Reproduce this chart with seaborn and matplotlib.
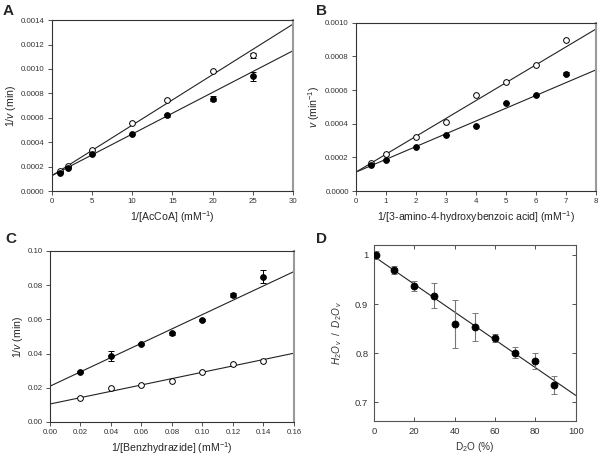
import numpy as np
import pandas as pd
import matplotlib
matplotlib.use("Agg")
import matplotlib.pyplot as plt
import seaborn as sns

sns.set_theme(style="ticks")
plt.rcParams['font.family'] = ['Liberation Sans', 'DejaVu Sans']
plt.rcParams['mathtext.fontset'] = 'custom'
plt.rcParams['mathtext.rm'] = 'Liberation Sans'
plt.rcParams['mathtext.it'] = 'Liberation Sans:italic'

# ---- Panel A data ----
a_x = [1, 2, 5, 10, 14.3, 20, 25]
a_open = [0.000161, 0.000205, 0.000333, 0.000554, 0.000748, 0.000985, 0.001113]
a_open_err = [0, 0, 0, 0, 0, 0, 0.00002]
a_fill = [0.000150, 0.000188, 0.000300, 0.000467, 0.000620, 0.000756, 0.000939]
a_fill_err = [0, 0, 0, 0, 0.00001, 0.00002, 0.00004]
a_fit_x = [0, 30]
a_fit_open = [0.000125, 0.001367]
a_fit_fill = [0.000125, 0.001149]

# ---- Panel B data ----
b_x = [0.5, 1, 2, 3, 4, 5, 6, 7]
b_open = [0.000167, 0.000219, 0.000323, 0.000408, 0.000572, 0.000649, 0.000749, 0.000898]
b_fill = [0.000157, 0.000187, 0.000263, 0.000333, 0.000388, 0.000526, 0.000570, 0.000697]
b_fill_err = [0, 0, 0, 0, 0, 0, 0, 0.00001]
b_fit_x = [0, 8]
b_fit_open = [0.000112, 0.000964]
b_fit_fill = [0.000112, 0.000721]

# ---- Panel C data ----
c_x = [0.02, 0.04, 0.06, 0.08, 0.10, 0.12, 0.14]
c_fill = [0.0291, 0.0387, 0.0457, 0.0518, 0.0596, 0.0744, 0.0850]
c_fill_err = [0.0005, 0.0028, 0.0005, 0.0008, 0.0008, 0.0012, 0.0040]
c_open = [0.0141, 0.0199, 0.0219, 0.0238, 0.0291, 0.0338, 0.0354]
c_fit_x = [0, 0.16]
c_fit_fill = [0.0209, 0.0879]
c_fit_open = [0.0105, 0.0402]

# ---- Panel D data ----
d_x = [1, 10, 20, 30, 40, 50, 60, 70, 80, 89]
d_y = [1.000, 0.969, 0.937, 0.917, 0.860, 0.853, 0.831, 0.801, 0.784, 0.735]
d_err = [0.008, 0.008, 0.010, 0.025, 0.049, 0.028, 0.008, 0.011, 0.016, 0.018]
d_fit_x = [0, 100]
d_fit_y = [0.997, 0.714]

fig = plt.figure(figsize=(6.01, 4.57), dpi=100)
axA = fig.add_axes([0.086, 0.582, 0.4015, 0.374])
axB = fig.add_axes([0.592, 0.582, 0.400, 0.368])
axC = fig.add_axes([0.083, 0.0766, 0.406, 0.3744])
axD = fig.add_axes([0.622, 0.0788, 0.336, 0.385])

tick_fs = 5.7
lab_fs = 7.6
ms = 17
lc = '#222222'


def style_abc(ax):
    for s in ['left', 'bottom', 'top']:
        ax.spines[s].set_color('#333333')
        ax.spines[s].set_linewidth(0.8)
    ax.spines['right'].set_color('#9a9a9a')
    ax.spines['right'].set_linewidth(1.5)
    ax.tick_params(direction='out', length=3, width=0.6, labelsize=tick_fs,
                   colors='#333333', pad=2)


def plot_series(ax, x, y, filled, err=None):
    if err is not None:
        ax.errorbar(x, y, yerr=err, fmt='none', ecolor='black', elinewidth=0.7,
                    capsize=2, capthick=0.7, zorder=2)
    df = pd.DataFrame({'x': x, 'y': y})
    sns.scatterplot(data=df, x='x', y='y', ax=ax, s=ms, marker='o',
                    color='black' if filled else 'white', edgecolor='black',
                    linewidth=0.7, zorder=3)


def plot_fit(ax, x, y):
    df = pd.DataFrame({'x': x, 'y': y})
    sns.lineplot(data=df, x='x', y='y', ax=ax, color=lc, linewidth=0.8, zorder=1)


# Panel A
plot_fit(axA, a_fit_x, a_fit_open)
plot_fit(axA, a_fit_x, a_fit_fill)
plot_series(axA, a_x, a_open, False, a_open_err)
plot_series(axA, a_x, a_fill, True, a_fill_err)
axA.set_xlim(0, 30)
axA.set_ylim(0, 0.0014)
axA.set_xticks([0, 5, 10, 15, 20, 25, 30])
axA.set_yticks(np.arange(0, 0.00141, 0.0002))
axA.set_yticklabels([f"{v:.4f}" for v in np.arange(0, 0.00141, 0.0002)])
axA.set_xlabel(r'1/[AcCoA] (mM$^{-1}$)', fontsize=lab_fs, labelpad=3)
axA.set_ylabel(r'1/$\it{v}$ (min)', fontsize=lab_fs, labelpad=2)
style_abc(axA)

# Panel B
plot_fit(axB, b_fit_x, b_fit_open)
plot_fit(axB, b_fit_x, b_fit_fill)
plot_series(axB, b_x, b_open, False)
plot_series(axB, b_x, b_fill, True, b_fill_err)
axB.set_xlim(0, 8)
axB.set_ylim(0, 0.0010)
axB.set_xticks(range(0, 9))
axB.set_yticks(np.arange(0, 0.00101, 0.0002))
axB.set_yticklabels([f"{v:.4f}" for v in np.arange(0, 0.00101, 0.0002)])
axB.set_xlabel(r'1/[3-amino-4-hydroxybenzoic acid] (mM$^{-1}$)', fontsize=lab_fs, labelpad=3)
axB.set_ylabel(r'$\it{v}$ (min$^{-1}$)', fontsize=lab_fs, labelpad=2)
style_abc(axB)

# Panel C
plot_fit(axC, c_fit_x, c_fit_fill)
plot_fit(axC, c_fit_x, c_fit_open)
plot_series(axC, c_x, c_fill, True, c_fill_err)
plot_series(axC, c_x, c_open, False)
axC.set_xlim(0, 0.16)
axC.set_ylim(0, 0.10)
axC.set_xticks(np.arange(0, 0.161, 0.02))
axC.set_xticklabels([f"{v:.2f}" for v in np.arange(0, 0.161, 0.02)])
axC.set_yticks(np.arange(0, 0.101, 0.02))
axC.set_yticklabels([f"{v:.2f}" for v in np.arange(0, 0.101, 0.02)])
axC.set_xlabel(r'1/[Benzhydrazide] (mM$^{-1}$)', fontsize=lab_fs, labelpad=3)
axC.set_ylabel(r'1/$\it{v}$ (min)', fontsize=lab_fs, labelpad=2)
style_abc(axC)

# Panel D
plot_fit(axD, d_fit_x, d_fit_y)
axD.errorbar(d_x, d_y, yerr=d_err, fmt='none', ecolor='#777777', elinewidth=0.8,
             capsize=2.2, capthick=0.7, zorder=2)
sns.scatterplot(x=d_x, y=d_y, ax=axD, s=26, color='black', edgecolor='black',
                linewidth=0.5, zorder=3)
axD.set_xlim(0, 100)
axD.set_ylim(0.662, 1.02)
axD.set_xticks([0, 20, 40, 60, 80, 100])
axD.set_yticks([0.7, 0.8, 0.9, 1.0])
axD.set_yticklabels(['0.7', '0.8', '0.9', '1'])
for s in axD.spines.values():
    s.set_color('#555555')
    s.set_linewidth(0.8)
axD.tick_params(direction='in', length=3, width=0.6, labelsize=6.8, colors='#333333',
                top=True, right=True, pad=4)
axD.set_xlabel(r'D$_2$O (%)', fontsize=7.2, labelpad=3, color='#333333')
axD.set_ylabel(r'$\it{H_2O}_{\,v}$  /  $\it{D_2O}_{\,v}$', fontsize=7.2, labelpad=8,
               color='#333333')

# Panel letters
for lbl, (px, py) in {'A': (3, 4), 'B': (316, 4), 'C': (5, 232), 'D': (316, 232)}.items():
    fig.text(px / 601, 1 - py / 457, lbl, fontsize=11, fontweight='bold',
             ha='left', va='top')

fig.savefig('out.png', dpi=100)
